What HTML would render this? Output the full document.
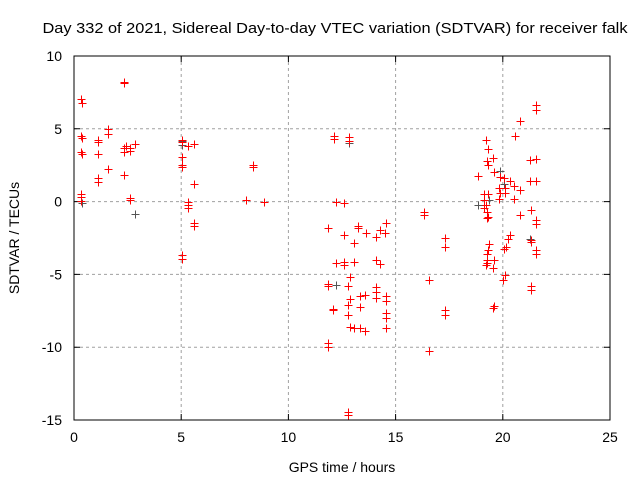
<!DOCTYPE html>
<html><head><meta charset="utf-8"><style>
html,body{margin:0;padding:0;background:#fff;}
svg{display:block;font-family:"Liberation Sans",sans-serif;}
</style></head><body>
<svg id="chart" width="640" height="480" viewBox="0 0 640 480">
<text x="335" y="33" font-size="14.5" text-anchor="middle" textLength="585" lengthAdjust="spacingAndGlyphs">Day 332 of 2021, Sidereal Day-to-day VTEC variation (SDTVAR) for receiver falk</text>
<g id="grid"></g>
<g id="axes"></g>
<g id="black" shape-rendering="crispEdges"></g>
<g id="red" shape-rendering="crispEdges"></g>
<text x="342" y="472" font-size="14" text-anchor="middle">GPS time / hours</text>
<text transform="translate(19,238) rotate(-90)" font-size="14" text-anchor="middle">SDTVAR / TECUs</text>
</svg>
<script>
const xTicks=[0,5,10,15,20,25];
const yTicks=[10,5,0,-5,-10,-15];
const redX=[0.33,0.37,0.33,0.37,0.33,0.37,0.33,0.33,0.33,
1.12,1.12,1.12,1.12,1.12,1.59,1.59,1.59,2.33,2.33,2.33,2.33,2.33,2.43,2.61,2.61,2.61,2.61,2.85,
5.04,5.04,5.04,5.04,5.04,5.04,5.04,5.32,5.32,5.32,5.32,5.6,5.6,5.6,5.6,8.02,8.35,8.35,8.86,
11.85,11.85,11.85,11.85,11.85,12.08,12.08,12.13,12.13,12.22,12.22,12.59,12.59,12.59,12.59,12.78,12.78,12.78,12.87,12.87,12.87,13.06,13.06,13.06,13.25,13.25,13.34,13.34,13.34,13.57,13.57,13.62,
14.09,14.09,14.09,14.09,14.09,14.27,14.27,14.55,14.55,14.55,14.55,14.55,14.55,14.51,12.78,12.78,12.83,12.83,
16.32,16.32,17.3,17.3,17.3,17.3,16.56,16.56,
21.55,21.55,20.8,20.57,19.22,19.31,19.54,19.26,19.31,19.59,19.87,21.27,21.55,19.82,19.87,18.84,20.06,20.34,20.52,20.8,21.27,21.55,20.1,20.1,19.12,19.12,19.31,19.82,20.52,19.22,19.12,19.26,19.31,19.26,21.32,21.55,21.55,20.8,20.34,20.24,21.32,21.32,21.55,21.55,19.36,19.31,19.26,19.26,19.26,19.22,19.59,19.54,20.1,20.01,21.32,21.32,19.54,19.59,20.06,20.15];
const redY=[7.05,6.77,4.51,4.37,3.41,3.27,0.52,0.32,0.04,
4.23,4.09,3.27,1.62,1.35,4.99,4.64,2.24,8.21,8.15,3.68,3.41,1.83,3.82,3.68,3.48,0.25,0.11,3.96,
4.23,4.09,3.06,2.51,2.38,-3.67,-3.94,3.82,-0.03,-0.23,-0.44,3.96,1.21,-1.47,-1.68,0.11,2.51,2.38,-0.03,
-1.81,-5.8,-5.66,-9.71,-9.99,-7.38,-7.45,4.51,4.3,-4.22,-0.03,-0.1,-2.29,-4.15,-4.35,-5.8,-7.1,-7.79,-5.18,-6.69,-8.61,-2.84,-4.15,-8.68,-1.81,-1.68,-6.48,-7.24,-8.68,-8.89,-6.41,-2.16,
-2.43,-4.01,-5.87,-6.21,-6.62,-1.95,-4.29,-1.47,-6.48,-6.83,-7.65,-8.0,-8.68,-2.16,-14.45,-14.66,4.44,4.16,
-0.71,-0.92,-2.5,-3.12,-7.45,-7.79,-5.38,-10.26,
6.63,6.29,5.54,4.51,4.23,3.61,2.99,2.79,2.51,2.03,1.69,2.86,2.93,0.93,0.59,1.76,1.62,1.41,1.07,0.8,1.41,1.41,0.93,0.59,0.11,0.52,0.52,0.18,0.18,-0.23,-0.44,-0.71,-1.06,-1.13,-0.58,-1.26,-1.54,-0.92,-2.29,-2.57,-2.64,-2.77,-3.32,-3.6,-2.91,-3.32,-3.6,-4.01,-4.22,-4.35,-4.01,-4.56,-5.04,-5.38,-5.8,-6.07,-7.31,-7.17,-3.26,-3.12];
const blackX=[0.37,2.85,5.04,5.04,12.83,12.83,17.3,19.87,20.06,18.84,21.27,19.36,12.22];
const blackY=[-0.1,-0.85,4.16,3.9,4.44,4.0,-3.1,2.1,1.2,-0.2,-2.6,0.1,-5.7];
const X0=74,X1=610,Y0=420,Y1=56;
const sx=v=>X0+(v-0)/(25-0)*(X1-X0);
const sy=v=>Y0-(v+15)/(25)*(Y0-Y1);
const NS='http://www.w3.org/2000/svg';
function mk(tag,parent,attrs){const e=document.createElementNS(NS,tag);for(const k in attrs)e.setAttribute(k,attrs[k]);parent.appendChild(e);return e;}
const grid=document.getElementById('grid'),axes=document.getElementById('axes');
xTicks.forEach(t=>{const x=sx(t);
 if(t>0&&t<25){const l=mk('line',grid,{x1:x,y1:Y1,x2:x,y2:Y0,stroke:'#a0a0a0','stroke-dasharray':'3,3'});
 
 }
 const tk=mk('path',axes,{d:`M${x},${Y0}v-6M${x},${Y1}v6`,stroke:'#000'});
 
 
 const tx=mk('text',axes,{x:x,y:Y0+22,'font-size':14,'text-anchor':'middle'});tx.textContent=t;
 
 
});
yTicks.forEach(t=>{const y=sy(t);
 if(t>-15&&t<10){const l=mk('line',grid,{x1:X0,y1:y,x2:X1,y2:y,stroke:'#a0a0a0','stroke-dasharray':'3,3'});
 
 }
 const tk=mk('path',axes,{d:`M${X0},${y}h6M${X1},${y}h-6`,stroke:'#000'});
 
 
 const tx=mk('text',axes,{x:X0-12,y:y+5,'font-size':14,'text-anchor':'end'});tx.textContent=t;
 
 
});
const fr=mk('rect',axes,{x:X0,y:Y1,width:X1-X0,height:Y0-Y1,fill:'none',stroke:'#000','stroke-width':1});


function plot(g,xs,ys,col,w,name){xs.forEach((v,i)=>{const x=Math.round(sx(v))+0.5,y=Math.round(sy(ys[i]))+0.5;
 const p=mk('path',g,{d:`M${x-4},${y}h8M${x},${y-4}v8`,stroke:col,'stroke-width':w});
 
 });}
plot(document.getElementById('black'),blackX,blackY,'#555',1,'black-point');
plot(document.getElementById('red'),redX,redY,'#ff0000',1,'red-point');
</script>
</body></html>
